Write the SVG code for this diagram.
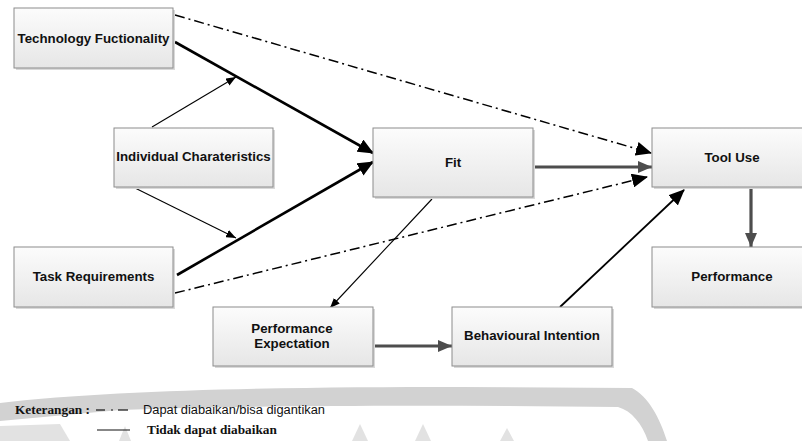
<svg xmlns="http://www.w3.org/2000/svg" width="802" height="441" viewBox="0 0 802 441">
<defs>
<linearGradient id="g" x1="0" y1="0" x2="0" y2="1">
<stop offset="0" stop-color="#fcfcfc"/>
<stop offset="1" stop-color="#e6e6e6"/>
</linearGradient>
<marker id="ab" markerUnits="userSpaceOnUse" markerWidth="16" markerHeight="14" viewBox="0 0 16 14" refX="15" refY="7" orient="auto">
<path d="M0,0 L16,7 L0,14 Z" fill="#000"/>
</marker>
<marker id="as" markerUnits="userSpaceOnUse" markerWidth="10" markerHeight="8" viewBox="0 0 10 8" refX="10" refY="4" orient="auto">
<path d="M0,0 L10,4 L0,8 Z" fill="#000"/>
</marker>
<marker id="ag" markerUnits="userSpaceOnUse" markerWidth="14" markerHeight="12" viewBox="0 0 14 12" refX="14" refY="6" orient="auto">
<path d="M0,0 L14,6 L0,12 Z" fill="#4d4d4d"/>
</marker>
</defs>
<style>
.box{fill:url(#g);stroke:#8c8c8c;stroke-width:1}
.sh{fill:#d9d9d9}
.lbl{font-family:"Liberation Sans",Arial,sans-serif;font-weight:bold;font-size:13.3px;fill:#111;text-anchor:middle}
.thick{stroke:#000;stroke-width:2.6;fill:none}
.thin{stroke:#000;stroke-width:1.1;fill:none}
.med{stroke:#000;stroke-width:1.8;fill:none}
.grey{stroke:#4d4d4d;stroke-width:3.2;fill:none}
.dd{stroke:#000;stroke-width:1.5;fill:none;stroke-dasharray:10 4 2 4}
.tm{font-family:"Liberation Serif","Times New Roman",serif;font-weight:bold;font-size:13.3px;fill:#111}
.cal{font-family:"Liberation Sans",Arial,sans-serif;font-size:12.5px;fill:#111}
.wm{fill:#d2d2d2}
.wm2{fill:#e2e2e2}
</style>

<g id="watermark">
<path class="wm" d="M0,403 C120,389 300,387 460,387 L632,388 C648,396 660,418 667,441 L648,441 C642,424 632,411 618,407 C450,405 250,405 120,410 L0,421 Z"/>
<path class="wm2" d="M0,426 L60,424 L70,441 L0,441 Z"/>
<path class="wm2" d="M119,441 L125,426 L131,441 Z"/>
<path class="wm2" d="M352,441 L360,424 L368,441 Z"/>
<path class="wm2" d="M415,441 L423,424 L431,441 Z"/>
<path class="wm2" d="M500,441 L507,428 L514,441 Z"/>
</g>

<g id="connectors">
<line class="dd" x1="175" y1="15" x2="651" y2="153" marker-end="url(#ab)"/>
<line class="dd" x1="175" y1="293" x2="647" y2="177" marker-end="url(#ab)"/>
<line class="thick" x1="175" y1="42" x2="373" y2="153" marker-end="url(#ab)"/>
<line class="thick" x1="177" y1="275" x2="373" y2="162" marker-end="url(#ab)"/>
<line class="thin" x1="152" y1="127" x2="236" y2="77" marker-end="url(#as)"/>
<line class="thin" x1="135" y1="188" x2="236" y2="238" marker-end="url(#as)"/>
<line class="thin" x1="432" y1="199" x2="330" y2="308" marker-end="url(#as)"/>
<line class="med" x1="560" y1="307" x2="684" y2="190" marker-end="url(#ab)"/>
<line class="grey" x1="532" y1="167" x2="652" y2="167" marker-end="url(#ag)"/>
<line class="grey" x1="373" y1="346" x2="452" y2="346" marker-end="url(#ag)"/>
<line class="grey" x1="751" y1="187" x2="751" y2="247" marker-end="url(#ag)"/>
</g>

<g id="tech">
<rect class="sh" x="16" y="10" width="159" height="60"/>
<rect class="box" x="14" y="8" width="159" height="60"/>
<text class="lbl" x="93.5" y="43">Technology Fuctionality</text>
</g>
<g id="individual">
<rect class="sh" x="116" y="130" width="159" height="59"/>
<rect class="box" x="114" y="128" width="159" height="59"/>
<text class="lbl" x="193.5" y="161">Individual Charateristics</text>
</g>
<g id="fit">
<rect class="sh" x="375" y="130" width="160" height="69"/>
<rect class="box" x="373" y="128" width="160" height="69"/>
<text class="lbl" x="453" y="167">Fit</text>
</g>
<g id="tooluse">
<rect class="sh" x="654" y="130" width="160" height="59"/>
<rect class="box" x="652" y="128" width="160" height="59"/>
<text class="lbl" x="732" y="162">Tool Use</text>
</g>
<g id="task">
<rect class="sh" x="16" y="249" width="159" height="60"/>
<rect class="box" x="14" y="247" width="159" height="60"/>
<text class="lbl" x="93.5" y="281">Task Requirements</text>
</g>
<g id="performance">
<rect class="sh" x="654" y="249" width="160" height="60"/>
<rect class="box" x="652" y="247" width="160" height="60"/>
<text class="lbl" x="732" y="281">Performance</text>
</g>
<g id="perfexp">
<rect class="sh" x="215" y="309" width="160" height="59"/>
<rect class="box" x="213" y="307" width="160" height="59"/>
<text class="lbl" x="292" y="333">Performance</text>
<text class="lbl" x="292" y="348">Expectation</text>
</g>
<g id="behav">
<rect class="sh" x="454" y="309" width="160" height="59"/>
<rect class="box" x="452" y="307" width="160" height="59"/>
<text class="lbl" x="532" y="340">Behavioural Intention</text>
</g>

<g id="legend">
<text class="tm" x="15" y="414">Keterangan :</text>
<line x1="96" y1="410" x2="105" y2="410" stroke="#111" stroke-width="1.2"/>
<line x1="111" y1="410" x2="113" y2="410" stroke="#111" stroke-width="1.2"/>
<line x1="118" y1="410" x2="128" y2="410" stroke="#111" stroke-width="1.2"/>
<text class="cal" x="143" y="414" textLength="182" lengthAdjust="spacingAndGlyphs">Dapat diabaikan/bisa digantikan</text>
<line x1="97" y1="430" x2="130" y2="430" stroke="#111" stroke-width="1.2"/>
<text class="tm" x="147" y="434">Tidak dapat diabaikan</text>
</g>
</svg>
